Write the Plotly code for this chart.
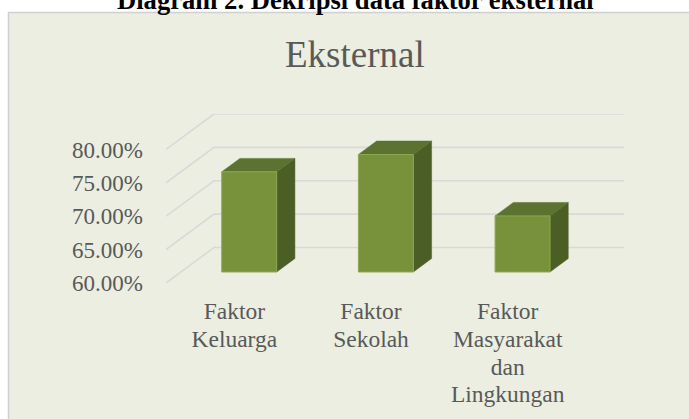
import plotly.graph_objects as go

# ---- data ----
categories = ["Faktor Keluarga", "Faktor Sekolah", "Faktor Masyarakat dan Lingkungan"]
category_lines = [["Faktor", "Keluarga"], ["Faktor", "Sekolah"], ["Faktor", "Masyarakat", "dan", "Lingkungan"]]
values = [75.0, 77.6, 68.4]
y_ticks = [60, 65, 70, 75, 80]
y_tick_labels = ["60.00%", "65.00%", "70.00%", "75.00%", "80.00%"]
y_base = 60

# ---- style / geometry ----
W, H = 689, 419
ML, MR, MT, MB = 166, 65, 114, 136
DX, DY = 0.351, 5.31          # depth offset (x units, y units)
D0, D1 = 0.31, 0.69           # bar depth span
HALF = 0.201                  # half bar width
X0, X1 = -0.5, 2.5
FONT = "Liberation Serif, Times New Roman, serif"
TXT = "#595959"
GRID = "#D9D9D9"
FRONT, TOP, SIDE = "#77923B", "#5B7230", "#4A5E25"
BG = "#EBEEE0"

fig = go.Figure()

# gridlines: side wall diagonal + back wall horizontal
for v in y_ticks:
    fig.add_trace(go.Scatter(
        x=[X0, X0 + DX, X1 + DX], y=[v, v + DY, v + DY],
        mode="lines", line=dict(color=GRID, width=1.6),
        hoverinfo="skip", showlegend=False))

# 3D bars
for i, v in enumerate(values):
    xl0, xr0 = i + D0 * DX - HALF, i + D0 * DX + HALF
    xl1, xr1 = i + D1 * DX - HALF, i + D1 * DX + HALF
    b0, b1 = y_base + D0 * DY, y_base + D1 * DY
    t0, t1 = v + D0 * DY, v + D1 * DY
    # side
    fig.add_trace(go.Scatter(
        x=[xr0, xr1, xr1, xr0, xr0], y=[b0, b1, t1, t0, b0],
        fill="toself", fillcolor=SIDE, mode="lines",
        line=dict(color=SIDE, width=0.5), hoverinfo="skip", showlegend=False))
    # top
    fig.add_trace(go.Scatter(
        x=[xl0, xr0, xr1, xl1, xl0], y=[t0, t0, t1, t1, t0],
        fill="toself", fillcolor=TOP, mode="lines",
        line=dict(color=TOP, width=0.5), hoverinfo="skip", showlegend=False))
    # front
    fig.add_trace(go.Scatter(
        x=[xl0, xr0, xr0, xl0, xl0], y=[b0, b0, t0, t0, b0],
        fill="toself", fillcolor=FRONT, mode="lines",
        line=dict(color="#8DA851", width=1), hoverinfo="skip", showlegend=False))

pw = W - ML - MR
ph = H - MT - MB
def px_x(p):
    return (p - ML) / pw
def px_y(p):
    return (H - MB - p) / ph

tick_text = ["<br>".join("<span style='font-size:23.5px'>%s</span>" % w for w in lines)
             for lines in category_lines]

fig.update_layout(
    width=W, height=H,
    margin=dict(l=ML, r=MR, t=MT, b=MB),
    paper_bgcolor="white", plot_bgcolor="rgba(0,0,0,0)",
    font=dict(family=FONT, color=TXT),
    xaxis=dict(range=[X0, X1 + DX], showgrid=False, zeroline=False, showline=False,
               tickmode="array", tickvals=list(range(len(categories))), ticktext=tick_text,
               tickfont=dict(size=21.3, color=TXT, family=FONT), ticks="",
               ticklabelstandoff=14, fixedrange=True),
    yaxis=dict(range=[y_base, y_base + 20 + DY], showgrid=False, zeroline=False, showline=False,
               tickmode="array", tickvals=y_ticks, ticktext=y_tick_labels,
               tickfont=dict(size=23, color=TXT, family=FONT), ticks="",
               ticklabelstandoff=22, fixedrange=True),
    shapes=[dict(type="rect", xref="paper", yref="paper",
                 x0=px_x(8.5), x1=px_x(703), y0=px_y(430), y1=px_y(12.5),
                 fillcolor=BG, line=dict(color="#D0D0D0", width=1.5), layer="below")],
    annotations=[
        dict(text="<b>Diagram 2. Dekripsi data faktor eksternal</b>", xref="paper", yref="paper",
             x=px_x(355), y=px_y(17), xanchor="center", yanchor="bottom", showarrow=False,
             font=dict(size=26.6, color="black", family=FONT)),
        dict(text="Eksternal", xref="paper", yref="paper",
             x=px_x(355), y=px_y(77), xanchor="center", yanchor="bottom", showarrow=False,
             font=dict(size=37, color=TXT, family=FONT)),
    ],
)

fig.write_html("out.html", config={"displayModeBar": False, "staticPlot": True},
               post_script="document.body.style.margin='0';document.body.style.overflow='hidden';")
